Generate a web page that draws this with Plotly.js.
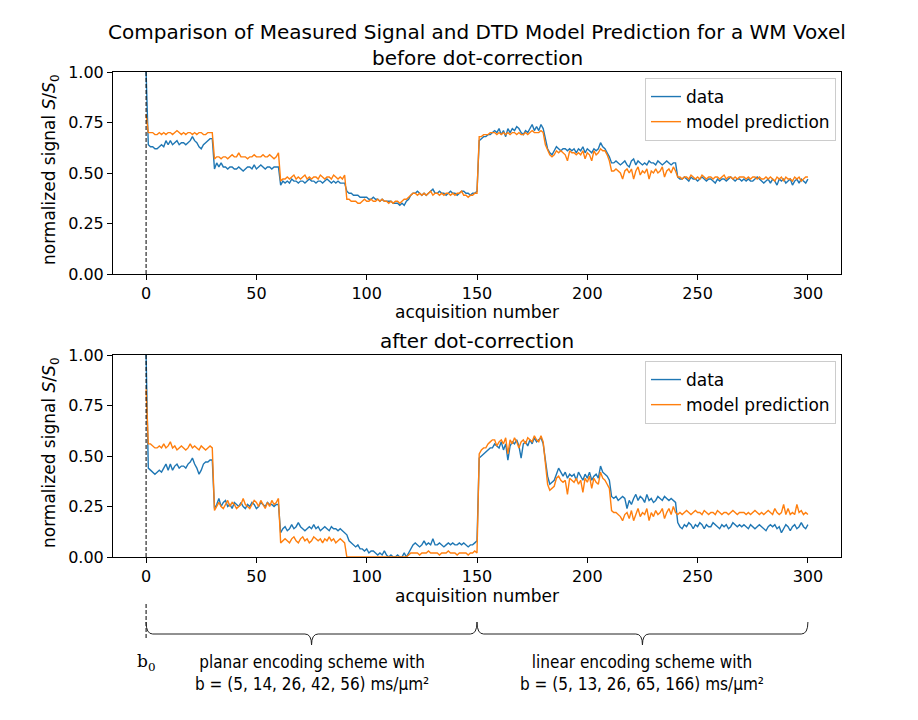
<!DOCTYPE html>
<html>
<head>
<meta charset="utf-8">
<script src="https://cdn.plot.ly/plotly-3.0.1.min.js"></script>
<style>html,body{margin:0;padding:0;background:#fff;}#chart{width:918px;height:720px;}</style>
</head>
<body>
<div id="chart"></div>
<script>
// ---- values (acquisition 0..300) ----
const beforeData = [1.00,
0.64,0.63,0.63,0.62,0.62,0.63,0.64,0.63,0.66,0.64, 0.66,0.64,0.65,0.66,0.64,0.65,0.65,0.64,0.65,0.66, 0.68,0.66,0.65,0.63,0.62,0.64,0.65,0.66,0.67,0.67,
0.52,0.55,0.53,0.55,0.53,0.53,0.52,0.53,0.53,0.52, 0.52,0.53,0.52,0.51,0.52,0.53,0.53,0.52,0.54,0.52, 0.53,0.54,0.53,0.52,0.53,0.53,0.52,0.53,0.53,0.53,
0.44,0.46,0.45,0.46,0.45,0.47,0.46,0.46,0.45,0.46, 0.46,0.45,0.46,0.47,0.46,0.46,0.45,0.46,0.46,0.45, 0.46,0.47,0.46,0.45,0.46,0.45,0.46,0.45,0.45,0.45,
0.41,0.40,0.40,0.39,0.39,0.39,0.38,0.38,0.38,0.38, 0.37,0.37,0.38,0.37,0.37,0.36,0.37,0.36,0.36,0.36, 0.36,0.35,0.35,0.35,0.34,0.35,0.34,0.36,0.37,0.39,
0.40,0.40,0.41,0.40,0.39,0.40,0.39,0.40,0.41,0.42, 0.40,0.40,0.41,0.40,0.40,0.39,0.40,0.41,0.40,0.40, 0.39,0.40,0.41,0.41,0.40,0.40,0.39,0.40,0.40,0.41,
0.66,0.67,0.68,0.68,0.69,0.69,0.70,0.71,0.70,0.72, 0.69,0.71,0.68,0.72,0.70,0.72,0.71,0.73,0.72,0.70, 0.69,0.71,0.70,0.72,0.74,0.71,0.73,0.71,0.74,0.72,
0.66,0.62,0.60,0.59,0.61,0.63,0.62,0.61,0.62,0.62, 0.61,0.62,0.61,0.62,0.60,0.62,0.61,0.63,0.60,0.62, 0.61,0.60,0.62,0.61,0.62,0.65,0.63,0.62,0.60,0.58,
0.55,0.55,0.56,0.55,0.54,0.55,0.56,0.54,0.53,0.56, 0.57,0.54,0.56,0.55,0.54,0.55,0.54,0.56,0.55,0.55, 0.54,0.56,0.55,0.54,0.55,0.56,0.55,0.54,0.55,0.55,
0.48,0.47,0.47,0.48,0.47,0.46,0.48,0.47,0.47,0.46, 0.47,0.48,0.47,0.46,0.47,0.47,0.46,0.45,0.47,0.46, 0.47,0.47,0.46,0.47,0.48,0.47,0.46,0.47,0.47,0.46,
0.47,0.46,0.47,0.46,0.46,0.47,0.48,0.47,0.46,0.45, 0.46,0.47,0.45,0.47,0.46,0.44,0.47,0.46,0.47,0.45, 0.46,0.47,0.44,0.46,0.47,0.45,0.47,0.46,0.45,0.47];

const beforeModel = [0.79,
0.70,0.70,0.70,0.69,0.69,0.70,0.69,0.70,0.69,0.70, 0.70,0.69,0.70,0.71,0.70,0.69,0.70,0.69,0.70,0.70, 0.69,0.70,0.69,0.70,0.70,0.69,0.69,0.70,0.70,0.70,
0.57,0.58,0.58,0.57,0.58,0.58,0.57,0.58,0.59,0.58, 0.58,0.60,0.58,0.58,0.58,0.57,0.58,0.58,0.59,0.58, 0.58,0.58,0.59,0.58,0.58,0.59,0.58,0.57,0.58,0.60,
0.46,0.47,0.47,0.48,0.47,0.48,0.49,0.47,0.48,0.47, 0.48,0.49,0.47,0.48,0.47,0.48,0.48,0.47,0.49,0.48, 0.47,0.48,0.48,0.47,0.49,0.48,0.47,0.48,0.47,0.49,
0.37,0.37,0.36,0.36,0.36,0.35,0.35,0.36,0.37,0.36, 0.36,0.37,0.36,0.36,0.37,0.36,0.37,0.36,0.36,0.35, 0.36,0.35,0.36,0.36,0.35,0.36,0.37,0.37,0.38,0.39,
0.40,0.40,0.39,0.40,0.39,0.40,0.39,0.40,0.41,0.39, 0.40,0.40,0.39,0.40,0.39,0.40,0.40,0.39,0.40,0.39, 0.40,0.40,0.41,0.39,0.39,0.38,0.39,0.39,0.40,0.40,
0.68,0.68,0.69,0.69,0.69,0.70,0.70,0.70,0.69,0.70, 0.69,0.70,0.69,0.70,0.69,0.70,0.70,0.69,0.70,0.69, 0.69,0.70,0.69,0.70,0.71,0.70,0.70,0.70,0.71,0.70,
0.64,0.61,0.59,0.58,0.59,0.61,0.60,0.61,0.60,0.59, 0.56,0.61,0.60,0.60,0.59,0.60,0.59,0.61,0.57,0.60, 0.59,0.56,0.61,0.59,0.60,0.62,0.61,0.61,0.59,0.56,
0.51,0.51,0.52,0.51,0.50,0.47,0.51,0.52,0.50,0.52, 0.47,0.51,0.53,0.49,0.51,0.50,0.52,0.47,0.51,0.50, 0.52,0.50,0.51,0.53,0.48,0.51,0.52,0.50,0.53,0.51,
0.48,0.48,0.47,0.48,0.48,0.47,0.49,0.48,0.47,0.48, 0.47,0.49,0.48,0.47,0.48,0.48,0.47,0.48,0.48,0.47, 0.48,0.49,0.47,0.48,0.48,0.47,0.48,0.47,0.48,0.48,
0.48,0.47,0.48,0.47,0.48,0.48,0.47,0.48,0.47,0.47, 0.48,0.47,0.48,0.47,0.46,0.48,0.47,0.48,0.46,0.48, 0.47,0.47,0.46,0.48,0.47,0.48,0.46,0.47,0.48,0.48];

const afterData = [1.00,
0.44,0.43,0.42,0.41,0.42,0.43,0.42,0.44,0.46,0.43, 0.46,0.43,0.45,0.46,0.44,0.45,0.45,0.44,0.46,0.47, 0.49,0.46,0.44,0.41,0.43,0.46,0.47,0.47,0.48,0.48,
0.24,0.26,0.29,0.25,0.27,0.28,0.25,0.26,0.24,0.27, 0.26,0.25,0.27,0.25,0.24,0.26,0.25,0.27,0.26,0.24, 0.25,0.27,0.26,0.25,0.27,0.26,0.26,0.25,0.26,0.26,
0.12,0.14,0.15,0.13,0.14,0.16,0.14,0.15,0.17,0.15, 0.14,0.13,0.14,0.15,0.14,0.16,0.14,0.15,0.13,0.14, 0.15,0.14,0.13,0.15,0.14,0.14,0.13,0.14,0.13,0.12,
0.11,0.08,0.07,0.06,0.05,0.06,0.04,0.04,0.03,0.04, 0.02,0.03,0.03,0.02,0.01,0.02,0.01,0.03,0.01,0.00, 0.01,0.00,0.00,0.01,0.00,0.00,0.02,0.00,0.02,0.04,
0.06,0.07,0.06,0.05,0.06,0.08,0.06,0.07,0.06,0.09, 0.06,0.06,0.07,0.06,0.05,0.06,0.07,0.06,0.07,0.06, 0.06,0.07,0.06,0.07,0.06,0.05,0.06,0.06,0.07,0.08,
0.49,0.50,0.51,0.52,0.53,0.54,0.54,0.56,0.55,0.54, 0.57,0.53,0.56,0.48,0.55,0.57,0.56,0.58,0.55,0.49, 0.56,0.57,0.55,0.58,0.56,0.59,0.57,0.58,0.59,0.56,
0.47,0.40,0.36,0.37,0.38,0.41,0.44,0.42,0.40,0.42, 0.39,0.41,0.40,0.41,0.38,0.42,0.40,0.38,0.41,0.39, 0.42,0.38,0.40,0.41,0.39,0.45,0.42,0.41,0.40,0.38,
0.30,0.29,0.30,0.28,0.29,0.30,0.29,0.24,0.28,0.26, 0.29,0.31,0.28,0.30,0.29,0.27,0.31,0.28,0.29,0.27, 0.28,0.30,0.29,0.28,0.30,0.29,0.28,0.29,0.28,0.27,
0.17,0.15,0.14,0.16,0.15,0.17,0.16,0.14,0.16,0.15, 0.17,0.16,0.14,0.16,0.15,0.15,0.17,0.16,0.15,0.14, 0.16,0.15,0.16,0.14,0.15,0.17,0.16,0.15,0.16,0.15,
0.16,0.15,0.14,0.16,0.15,0.14,0.15,0.16,0.15,0.14, 0.13,0.15,0.16,0.15,0.16,0.14,0.15,0.12,0.14,0.16, 0.15,0.13,0.15,0.16,0.14,0.15,0.17,0.15,0.14,0.16];

const afterModel = [0.83,
0.56,0.56,0.55,0.54,0.54,0.55,0.54,0.56,0.54,0.55, 0.57,0.54,0.55,0.53,0.54,0.55,0.54,0.53,0.54,0.56, 0.54,0.55,0.54,0.53,0.55,0.54,0.53,0.54,0.55,0.54,
0.23,0.25,0.27,0.25,0.24,0.26,0.28,0.25,0.27,0.26, 0.24,0.25,0.26,0.29,0.26,0.25,0.24,0.26,0.28,0.27, 0.25,0.28,0.26,0.24,0.27,0.25,0.28,0.26,0.27,0.29,
0.07,0.08,0.09,0.08,0.07,0.09,0.10,0.08,0.07,0.09, 0.10,0.08,0.09,0.07,0.08,0.10,0.09,0.08,0.09,0.07, 0.09,0.08,0.10,0.08,0.09,0.07,0.08,0.09,0.08,0.07,
0.00,0.00,0.00,0.00,0.00,0.00,0.00,0.00,0.00,0.00, 0.00,0.00,0.00,0.00,0.00,0.00,0.00,0.00,0.00,0.00, 0.00,0.00,0.00,0.00,0.00,0.00,0.00,0.00,0.01,0.02,
0.02,0.02,0.02,0.01,0.02,0.02,0.02,0.03,0.02,0.02, 0.02,0.02,0.01,0.02,0.02,0.02,0.03,0.02,0.02,0.02, 0.01,0.02,0.02,0.02,0.02,0.01,0.02,0.02,0.03,0.02,
0.51,0.53,0.54,0.54,0.56,0.57,0.58,0.58,0.55,0.57, 0.58,0.56,0.59,0.51,0.58,0.56,0.59,0.57,0.54,0.57, 0.58,0.56,0.59,0.58,0.57,0.60,0.58,0.57,0.60,0.57,
0.45,0.36,0.33,0.34,0.35,0.39,0.40,0.38,0.37,0.38, 0.31,0.39,0.38,0.37,0.39,0.36,0.38,0.32,0.39,0.37, 0.40,0.34,0.39,0.37,0.36,0.42,0.39,0.38,0.36,0.34,
0.23,0.22,0.22,0.21,0.20,0.18,0.21,0.22,0.19,0.23, 0.18,0.21,0.24,0.20,0.22,0.21,0.24,0.18,0.22,0.20, 0.23,0.21,0.22,0.24,0.19,0.22,0.24,0.21,0.25,0.22,
0.21,0.22,0.21,0.22,0.23,0.22,0.21,0.22,0.23,0.22, 0.22,0.21,0.23,0.22,0.21,0.22,0.22,0.21,0.23,0.22, 0.21,0.22,0.22,0.21,0.22,0.23,0.22,0.21,0.22,0.22,
0.22,0.21,0.22,0.21,0.22,0.23,0.22,0.21,0.22,0.21, 0.22,0.23,0.22,0.21,0.24,0.22,0.21,0.22,0.26,0.21, 0.24,0.21,0.22,0.21,0.26,0.22,0.23,0.21,0.22,0.21];

const xTicks = [0, 50, 100, 150, 200, 250, 300];
const yTicks = [0, 0.25, 0.5, 0.75, 1.0];
const seriesNames = ['data', 'model prediction'];
const schemeStarts = [0, 150, 300];   // acquisition boundaries of the two encoding schemes
const schemeLabels = [
  'planar encoding scheme with<br>b = (5, 14, 26, 42, 56) ms/µm²',
  'linear encoding scheme with<br>b = (5, 13, 26, 65, 166) ms/µm²'
];

// ---- chart ----
const H = 720, W = 918;
const py = v => 1 - v / H;      // pixel row -> paper fraction
const px = v => v / W;
const blue = '#1f77b4', orange = '#ff7f0e';
const F = 'DejaVu Sans, sans-serif';
const idx = a => a.map((_, i) => i);

const traces = [
  {x: idx(beforeData), y: beforeData, name: seriesNames[0], xaxis: 'x', yaxis: 'y', legend: 'legend', mode: 'lines', line: {color: blue, width: 1.4}},
  {x: idx(beforeModel), y: beforeModel, name: seriesNames[1], xaxis: 'x', yaxis: 'y', legend: 'legend', mode: 'lines', line: {color: orange, width: 1.4}},
  {x: idx(afterData), y: afterData, name: seriesNames[0], xaxis: 'x2', yaxis: 'y2', legend: 'legend2', mode: 'lines', line: {color: blue, width: 1.4}},
  {x: idx(afterModel), y: afterModel, name: seriesNames[1], xaxis: 'x2', yaxis: 'y2', legend: 'legend2', mode: 'lines', line: {color: orange, width: 1.4}}
];

const xd = [px(113), px(841)];
const axX = (anchor) => ({
  domain: xd, anchor: anchor, range: [-15, 315], tickvals: xTicks,
  showline: true, mirror: true, linecolor: '#000', linewidth: 1,
  ticks: 'outside', ticklen: 5, tickcolor: '#000', tickwidth: 1,
  showgrid: false, zeroline: false, tickfont: {family: F, size: 16, color: '#000'}
});
const axY = (anchor, dom) => ({
  domain: dom, anchor: anchor, range: [0, 1], tickvals: yTicks, tickformat: '.2f',
  showline: true, mirror: true, linecolor: '#000', linewidth: 1,
  ticks: 'outside', ticklen: 5, tickcolor: '#000', tickwidth: 1,
  showgrid: false, zeroline: false, tickfont: {family: F, size: 16, color: '#000'}
});

const legendCfg = (top) => ({
  x: px(836), xanchor: 'right', y: py(top), yanchor: 'top',
  bordercolor: '#cccccc', borderwidth: 1, bgcolor: 'rgba(255,255,255,0.85)',
  font: {family: F, size: 17, color: '#000'}, tracegroupgap: 0
});

const ann = [];
const txt = (text, x, y, size, extra) => Object.assign({text, x, y, xref: 'paper', yref: 'paper', showarrow: false, xanchor: 'center', yanchor: 'middle', font: {family: F, size, color: '#000'}}, extra || {});
const cx = px(477);
ann.push(txt('Comparison of Measured Signal and DTD Model Prediction for a WM Voxel', cx, py(32), 20));
ann.push(txt('before dot-correction', cx, py(58), 20));
ann.push(txt('after dot-correction', cx, py(341), 20));
ann.push(txt('acquisition number', cx, py(312), 17));
ann.push(txt('acquisition number', cx, py(596), 17));
ann.push(txt('normalized signal <i>S</i>/<i>S</i><sub>0</sub>', px(50), py(170), 17, {textangle: -90}));
ann.push(txt('normalized signal <i>S</i>/<i>S</i><sub>0</sub>', px(50), py(453), 17, {textangle: -90}));
ann.push({text: 'b<sub>0</sub>', x: schemeStarts[0], xref: 'x2', y: py(662), yref: 'paper', showarrow: false, xanchor: 'center', yanchor: 'middle', font: {family: 'DejaVu Serif, serif', size: 17, color: '#000'}});
for (let k = 0; k < 2; k++) {
  const mid = (schemeStarts[k] + schemeStarts[k + 1]) / 2;
  ann.push({text: schemeLabels[k], x: mid, xref: 'x2', y: py(673), yref: 'paper', showarrow: false, xanchor: 'center', yanchor: 'middle', align: 'center',
    font: {family: 'Liberation Sans Narrow, DejaVu Sans Condensed, sans-serif', size: 17, color: '#000'}});
}

// brace paths (x in acquisition units of x2, y in paper)
function brace(a, b) {
  const m = (a + b) / 2, d = 3;
  const yt = py(622), yh = py(634), yp = py(645);
  return `M ${a},${yt} Q ${a},${yh} ${a + d},${yh} L ${m - d},${yh} Q ${m},${yh} ${m},${yp} Q ${m},${yh} ${m + d},${yh} L ${b - d},${yh} Q ${b},${yh} ${b},${yt}`;
}
const dash = '4px,2px';
const shapes = [
  {type: 'line', xref: 'x', yref: 'y', x0: 0, x1: 0, y0: 0, y1: 1, line: {color: '#000', width: 1, dash: dash}},
  {type: 'line', xref: 'x2', yref: 'y2', x0: 0, x1: 0, y0: 0, y1: 1, line: {color: '#000', width: 1, dash: dash}},
  {type: 'line', xref: 'x2', yref: 'paper', x0: 0, x1: 0, y0: py(638), y1: py(604), line: {color: '#000', width: 1, dash: dash}},
  {type: 'path', xref: 'x2', yref: 'paper', path: brace(schemeStarts[0], schemeStarts[1]), line: {color: '#222', width: 1}},
  {type: 'path', xref: 'x2', yref: 'paper', path: brace(schemeStarts[1], schemeStarts[2]), line: {color: '#222', width: 1}}
];

const layout = {
  width: W, height: H, margin: {l: 0, r: 0, t: 0, b: 0},
  paper_bgcolor: '#fff', plot_bgcolor: '#fff',
  font: {family: F, color: '#000'},
  xaxis: axX('y'), yaxis: axY('x', [py(274), py(72)]),
  xaxis2: axX('y2'), yaxis2: axY('x2', [py(557), py(355)]),
  legend: legendCfg(78), legend2: legendCfg(361),
  showlegend: true, annotations: ann, shapes: shapes
};

Plotly.newPlot('chart', traces, layout, {displayModeBar: false, staticPlot: true});
</script>
</body>
</html>
